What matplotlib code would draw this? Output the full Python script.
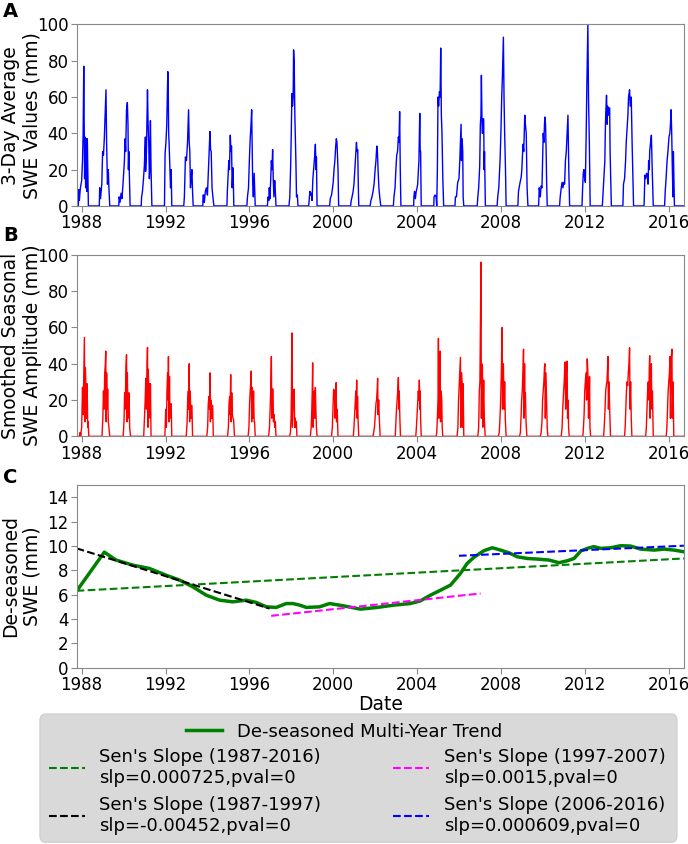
import matplotlib
matplotlib.use("Agg")
import matplotlib.pyplot as plt
from matplotlib.patches import FancyBboxPatch
import numpy as np

# record limits (decimal years)
record_start = 1987.78
record_end = 2016.73
season_years = list(range(1988, 2017))
year_ticks = list(range(1988, 2017, 4))

# 3-day average SWE, per water year: (offset from Jan 1 in years, mm)
swe3_pts = [
    [(-0.16,0),(-0.14,9),(-0.11,3),(-0.06,10),(0.00,14),(0.04,25),(0.07,40),(0.10,77),(0.12,46),(0.14,15),(0.16,38),(0.19,10),(0.22,37),(0.25,8),(0.27,37),(0.32,0)],
    [(-0.16,0),(-0.14,10),(-0.10,4),(-0.04,12),(0.00,30),(0.04,28),(0.08,37),(0.12,50),(0.16,64),(0.19,35),(0.23,12),(0.27,20),(0.30,10),(0.34,0)],
    [(-0.23,0),(-0.21,5),(-0.17,2),(-0.12,7),(-0.08,4),(-0.04,10),(0.00,18),(0.04,25),(0.07,37),(0.10,30),(0.14,53),(0.18,57),(0.21,45),(0.23,20),(0.25,30),(0.31,0)],
    [(-0.16,0),(-0.14,5),(-0.10,8),(-0.05,15),(-0.01,22),(0.04,38),(0.05,19),(0.09,30),(0.14,64),(0.17,45),(0.20,35),(0.23,15),(0.25,20),(0.28,47),(0.31,20),(0.35,0)],
    [(-0.05,0),(-0.02,29),(0.02,35),(0.06,45),(0.11,74),(0.13,65),(0.15,40),(0.17,35),(0.20,25),(0.24,10),(0.27,20),(0.30,0)],
    [(-0.13,0),(-0.10,5),(-0.05,27),(0.00,25),(0.05,35),(0.10,53),(0.13,35),(0.16,30),(0.19,10),(0.22,15),(0.26,20),(0.29,8),(0.32,0)],
    [(-0.22,0),(-0.21,6),(-0.17,6),(-0.15,2),(-0.10,8),(-0.05,10),(0.00,6),(0.05,20),(0.09,30),(0.12,41),(0.15,31),(0.18,30),(0.22,10),(0.26,5),(0.31,0)],
    [(-0.07,0),(-0.05,8),(-0.02,15),(0.02,25),(0.05,20),(0.09,39),(0.12,30),(0.15,33),(0.18,10),(0.22,21),(0.26,0)],
    [(-0.12,0),(-0.09,5),(-0.04,10),(0.00,25),(0.04,37),(0.08,45),(0.11,53),(0.13,35),(0.16,12),(0.19,5),(0.23,18),(0.25,10),(0.28,0)],
    [(-0.14,0),(-0.11,5),(-0.07,3),(-0.05,10),(-0.02,4),(0.02,15),(0.05,25),(0.08,20),(0.11,31),(0.14,15),(0.17,5),(0.21,14),(0.24,8),(0.27,0)],
    [(-0.11,0),(-0.07,5),(-0.03,22),(0.00,40),(0.03,62),(0.06,55),(0.09,60),(0.11,86),(0.14,79),(0.17,50),(0.19,40),(0.22,25),(0.25,5),(0.29,6),(0.32,0)],
    [(-0.17,0),(-0.14,4),(-0.11,8),(-0.07,6),(-0.04,7),(-0.01,3),(0.03,15),(0.08,22),(0.12,28),(0.15,34),(0.18,20),(0.20,27),(0.23,0)],
    [(-0.17,0),(-0.14,4),(-0.08,6),(-0.03,10),(0.00,13),(0.04,20),(0.08,25),(0.12,33),(0.15,37),(0.18,35),(0.21,25),(0.23,20),(0.26,0)],
    [(-0.17,0),(-0.14,3),(-0.10,5),(-0.05,8),(-0.01,12),(0.03,20),(0.07,28),(0.11,35),(0.14,30),(0.17,31),(0.20,10),(0.22,0)],
    [(-0.24,0),(-0.20,3),(-0.15,5),(-0.10,8),(-0.05,12),(0.00,20),(0.04,25),(0.08,33),(0.11,30),(0.14,20),(0.18,10),(0.22,5),(0.27,0)],
    [(-0.13,0),(-0.10,5),(-0.05,10),(-0.01,20),(0.03,28),(0.07,30),(0.11,38),(0.14,35),(0.17,52),(0.20,20),(0.23,0)],
    [(-0.16,0),(-0.15,5),(-0.12,8),(-0.08,4),(-0.04,8),(0.00,10),(0.03,12),(0.06,18),(0.09,25),(0.13,51),(0.15,30),(0.17,30),(0.20,0)],
    [(-0.20,0),(-0.19,5),(-0.14,6),(-0.09,5),(-0.06,0),(-0.03,20),(0.00,60),(0.03,55),(0.07,63),(0.10,60),(0.13,87),(0.16,50),(0.19,40),(0.23,15),(0.27,0)],
    [(-0.19,0),(-0.17,5),(-0.12,5),(-0.06,13),(0.00,15),(0.04,25),(0.07,35),(0.10,45),(0.12,25),(0.15,37),(0.18,30),(0.20,5),(0.23,0)],
    [(-0.13,0),(-0.10,5),(-0.06,10),(-0.01,22),(0.02,45),(0.05,50),(0.07,72),(0.10,45),(0.12,40),(0.15,48),(0.18,48),(0.20,20),(0.22,30),(0.26,0)],
    [(-0.18,0),(-0.15,5),(-0.10,10),(-0.04,25),(0.00,40),(0.04,60),(0.07,70),(0.12,93),(0.15,60),(0.18,40),(0.22,20),(0.25,0)],
    [(-0.19,0),(-0.16,8),(-0.10,12),(-0.03,16),(0.00,20),(0.03,28),(0.06,34),(0.09,30),(0.14,50),(0.17,45),(0.21,40),(0.25,10),(0.29,0)],
    [(-0.20,0),(-0.17,10),(-0.12,5),(-0.08,11),(-0.04,10),(-0.01,25),(0.02,40),(0.05,35),(0.08,45),(0.10,49),(0.13,45),(0.16,30),(0.18,15),(0.21,0)],
    [(-0.20,0),(-0.17,5),(-0.12,10),(-0.08,13),(-0.04,10),(0.00,13),(0.04,12),(0.08,25),(0.12,30),(0.16,40),(0.20,50),(0.24,20),(0.28,0)],
    [(-0.13,0),(-0.10,10),(-0.07,18),(-0.04,20),(0.00,15),(0.03,13),(0.07,40),(0.10,65),(0.15,100),(0.18,60),(0.22,35),(0.26,0)],
    [(-0.16,0),(-0.12,8),(-0.08,15),(-0.04,25),(-0.02,40),(0.00,50),(0.04,61),(0.07,45),(0.09,55),(0.12,50),(0.15,54),(0.19,54),(0.21,30),(0.23,20),(0.27,0)],
    [(-0.18,0),(-0.15,12),(-0.10,15),(-0.05,25),(-0.02,35),(0.03,45),(0.06,50),(0.09,60),(0.14,64),(0.17,55),(0.22,60),(0.26,35),(0.29,20),(0.33,0)],
    [(-0.17,0),(-0.13,17),(-0.09,15),(-0.05,18),(-0.01,17),(0.02,12),(0.05,25),(0.08,20),(0.10,30),(0.14,35),(0.18,39),(0.22,20),(0.27,0)],
    [(-0.19,0),(-0.16,8),(-0.12,15),(-0.07,25),(-0.03,30),(0.02,38),(0.06,40),(0.09,45),(0.12,53),(0.15,40),(0.18,20),(0.21,5),(0.23,30),(0.28,0)],
]

# smoothed seasonal amplitude, per water year: (offset from Jan 1 in years, mm)
seasonal_pts = [
    [(-0.10,0),(-0.09,2),(-0.06,2),(-0.05,0),(0.00,5),(0.04,27),(0.07,12),(0.10,35),(0.13,54.5),(0.15,8),(0.18,38),(0.21,20),(0.23,10),(0.26,29),(0.29,5),(0.31,8),(0.34,0)],
    [(-0.03,0),(0.01,10),(0.04,25),(0.07,15),(0.10,35),(0.13,40),(0.15,47),(0.17,8),(0.19,35),(0.22,15),(0.24,26),(0.27,8),(0.30,5),(0.34,0)],
    [(-0.02,0),(0.02,8),(0.05,24),(0.08,15),(0.11,37),(0.14,45),(0.16,8),(0.18,35),(0.21,10),(0.23,15),(0.26,24),(0.29,5),(0.33,0)],
    [(-0.04,0),(-0.01,8),(0.03,20),(0.06,32),(0.09,15),(0.12,40),(0.14,49),(0.16,5),(0.18,37),(0.21,20),(0.24,29),(0.27,10),(0.28,29),(0.31,0)],
    [(-0.03,0),(0.01,15),(0.04,5),(0.07,25),(0.10,35),(0.12,20),(0.14,44),(0.16,8),(0.19,33),(0.21,10),(0.24,18),(0.27,18),(0.30,0)],
    [(-0.01,0),(0.03,8),(0.06,20),(0.09,25),(0.11,15),(0.13,40),(0.15,8),(0.18,25),(0.21,10),(0.23,17),(0.26,17),(0.29,0)],
    [(-0.03,0),(0.01,5),(0.04,18),(0.07,22),(0.10,15),(0.12,35),(0.14,8),(0.17,20),(0.20,10),(0.22,17),(0.25,17),(0.28,0)],
    [(-0.04,0),(0.00,5),(0.03,18),(0.06,22),(0.08,12),(0.11,34),(0.13,8),(0.16,24),(0.19,12),(0.22,10),(0.25,9),(0.29,0)],
    [(-0.06,0),(-0.02,5),(0.01,18),(0.04,25),(0.07,30),(0.09,36),(0.11,8),(0.14,27),(0.17,10),(0.20,25),(0.23,8),(0.25,8),(0.28,0)],
    [(-0.08,0),(-0.04,5),(-0.01,15),(0.02,25),(0.05,44),(0.07,10),(0.09,26),(0.13,26),(0.15,8),(0.18,12),(0.21,5),(0.24,8),(0.27,0)],
    [(-0.08,0),(-0.04,2),(-0.01,10),(0.01,25),(0.03,57),(0.05,5),(0.08,15),(0.11,25),(0.14,26),(0.16,5),(0.19,10),(0.22,5),(0.24,8),(0.27,0)],
    [(-0.09,0),(-0.05,5),(-0.02,15),(0.00,25),(0.02,40.5),(0.04,5),(0.07,20),(0.10,25),(0.12,10),(0.15,27),(0.18,12),(0.20,5),(0.23,0)],
    [(-0.08,0),(-0.04,5),(-0.01,15),(0.02,26),(0.04,20),(0.06,25),(0.09,10),(0.12,25),(0.14,29.6),(0.16,8),(0.19,15),(0.23,0)],
    [(-0.04,0),(-0.01,5),(0.02,12),(0.05,20),(0.08,25),(0.10,15),(0.12,31),(0.14,10),(0.16,22),(0.19,8),(0.22,0)],
    [(-0.10,0),(-0.07,2),(-0.03,5),(0.01,12),(0.04,18),(0.07,20),(0.10,26),(0.12,32),(0.14,12),(0.17,20),(0.20,10),(0.24,0)],
    [(-0.04,0),(-0.01,8),(0.02,15),(0.05,20),(0.08,25),(0.11,32.4),(0.13,15),(0.15,25),(0.18,10),(0.21,0)],
    [(-0.06,0),(-0.03,5),(0.00,12),(0.03,18),(0.06,25),(0.09,20),(0.11,31),(0.13,15),(0.15,25),(0.17,10),(0.20,0)],
    [(-0.09,0),(-0.06,2),(-0.03,10),(0.00,20),(0.02,54),(0.04,10),(0.07,25),(0.10,47),(0.12,8),(0.15,25),(0.18,20),(0.20,5),(0.23,0)],
    [(-0.09,0),(-0.05,5),(-0.02,20),(0.01,28),(0.04,35),(0.07,43.5),(0.09,5),(0.12,35),(0.15,29),(0.17,5),(0.20,29),(0.23,0)],
    [(-0.10,0),(-0.06,5),(-0.03,25),(0.00,30),(0.03,70),(0.05,96),(0.07,10),(0.09,40),(0.12,38),(0.14,5),(0.16,20),(0.18,31),(0.21,10),(0.25,0)],
    [(-0.12,0),(-0.08,2),(-0.05,8),(-0.01,20),(0.02,35),(0.06,60),(0.08,15),(0.10,40),(0.12,40),(0.15,15),(0.18,30),(0.21,10),(0.25,0)],
    [(-0.11,0),(-0.07,2),(-0.04,10),(-0.01,20),(0.02,25),(0.05,35),(0.08,48),(0.10,10),(0.13,40),(0.15,20),(0.17,24),(0.20,8),(0.24,0)],
    [(-0.12,0),(-0.08,2),(-0.04,8),(-0.01,20),(0.02,25),(0.05,30),(0.08,38),(0.10,40),(0.12,10),(0.15,35),(0.18,20),(0.21,5),(0.24,0)],
    [(-0.12,0),(-0.08,5),(-0.05,15),(-0.02,22),(0.02,30),(0.06,41),(0.09,15),(0.12,35),(0.16,41.4),(0.18,10),(0.21,20),(0.23,5),(0.26,0)],
    [(-0.09,0),(-0.06,5),(-0.03,12),(0.00,25),(0.03,30),(0.06,35),(0.09,20),(0.12,42.7),(0.15,35),(0.18,10),(0.21,20),(0.23,33),(0.25,5),(0.28,0)],
    [(-0.10,0),(-0.07,5),(-0.03,15),(0.00,25),(0.03,28),(0.06,30),(0.09,38),(0.11,44),(0.13,15),(0.16,30),(0.19,15),(0.23,0)],
    [(-0.10,0),(-0.07,5),(-0.04,15),(-0.01,25),(0.02,30),(0.05,28),(0.08,35),(0.11,40),(0.14,48.8),(0.16,15),(0.19,30),(0.22,10),(0.25,0)],
    [(-0.09,0),(-0.06,5),(-0.03,15),(0.00,25),(0.03,30),(0.06,20),(0.08,38),(0.10,44.4),(0.12,10),(0.15,35),(0.18,40),(0.20,15),(0.23,25),(0.27,0)],
    [(-0.11,0),(-0.08,5),(-0.05,15),(-0.02,25),(0.01,30),(0.04,35),(0.07,44),(0.09,10),(0.12,40),(0.14,45),(0.16,48),(0.18,10),(0.21,30),(0.25,0)],
]

# de-seasoned multi-year trend (decimal year, mm)
trend_t = [1987.76, 1989.08, 1989.64, 1990.44, 1991.23, 1992.03, 1992.67, 1993.30, 1993.94,
           1994.58, 1995.21, 1995.85, 1996.33, 1996.81, 1997.28, 1997.76, 1998.08, 1998.40,
           1998.72, 1999.35, 1999.83, 2000.50, 2001.30, 2002.09, 2002.89, 2003.68, 2004.16,
           2004.64, 2005.12, 2005.60, 2006.07, 2006.39, 2006.71, 2007.19, 2007.59, 2007.98,
           2008.38, 2008.78, 2009.26, 2009.74, 2010.29, 2010.77, 2011.17, 2011.49, 2011.81,
           2012.12, 2012.44, 2012.76, 2013.24, 2013.72, 2014.19, 2014.67, 2015.31, 2015.79,
           2016.26, 2016.73]
trend_v = [6.3, 9.5, 8.85, 8.43, 8.16, 7.6, 7.2, 6.65, 5.96,
           5.55, 5.41, 5.55, 5.36, 5.0, 4.95, 5.27, 5.27, 5.14,
           4.95, 5.0, 5.27, 5.08, 4.81, 4.95, 5.14, 5.27, 5.49,
           5.96, 6.37, 6.79, 7.75, 8.57, 9.07, 9.62, 9.86, 9.67,
           9.45, 9.12, 8.98, 8.93, 8.85, 8.63, 8.79, 8.98, 9.59,
           9.81, 9.95, 9.81, 9.86, 10.03, 10.0, 9.75, 9.67, 9.75,
           9.67, 9.53]

# Sen's slope lines: label, start/end (decimal year), start/end value
sens_labels = ["Sen's Slope (1987-2016)\nslp=0.000725,pval=0",
               "Sen's Slope (1987-1997)\nslp=-0.00452,pval=0",
               "Sen's Slope (1997-2007)\nslp=0.0015,pval=0",
               "Sen's Slope (2006-2016)\nslp=0.000609,pval=0"]
sens_t0 = [1987.76, 1987.76, 1997.04, 2006.00]
sens_t1 = [2016.73, 1996.96, 2007.03, 2016.73]
sens_v0 = [6.32, 9.81, 4.26, 9.20]
sens_v1 = [8.98, 4.86, 6.10, 10.03]
sens_colors = ["green", "black", "magenta", "blue"]


def build_series(pts):
    t = [record_start]
    v = [0]
    for yr, season in zip(season_years, pts):
        for dt, val in season:
            t.append(yr + dt)
            v.append(val)
    t.append(record_end)
    v.append(0)
    return np.array(t), np.array(v)


swe3_t, swe3_v = build_series(swe3_pts)
seas_t, seas_v = build_series(seasonal_pts)

fig = plt.figure(figsize=(6.88, 8.44), dpi=100)
axA = fig.add_axes([0.112, 0.756, 0.882, 0.215])
axB = fig.add_axes([0.112, 0.483, 0.882, 0.215])
axC = fig.add_axes([0.112, 0.209, 0.882, 0.216])


def style(ax):
    for s in ax.spines.values():
        s.set_color("#888888")
    ax.tick_params(labelsize=12, color="#888888", length=4, pad=2)
    ax.set_xlim(record_start, record_end)
    ax.set_xticks(year_ticks)
    ax.set_xticklabels([str(y) for y in year_ticks])
    ax.yaxis.set_label_coords(-0.058, 0.5)


axA.plot(swe3_t, swe3_v, color="blue", linewidth=1.0)
axA.set_ylim(0, 100)
axA.set_yticks([0, 20, 40, 60, 80, 100])
axA.set_ylabel("3-Day Average\nSWE Values (mm)", fontsize=13.5)
style(axA)

axB.plot(seas_t, seas_v, color="red", linewidth=1.0)
axB.set_ylim(0, 100)
axB.set_yticks([0, 20, 40, 60, 80, 100])
axB.set_ylabel("Smoothed Seasonal\nSWE Amplitude (mm)", fontsize=13.5)
style(axB)

trend_line, = axC.plot(trend_t, trend_v, color="green", linewidth=2.5,
                       label="De-seasoned Multi-Year Trend")
sens_handles = []
for lab, t0, t1, v0, v1, c in zip(sens_labels, sens_t0, sens_t1, sens_v0, sens_v1, sens_colors):
    h, = axC.plot([t0, t1], [v0, v1], "--", color=c, linewidth=1.5, label=lab)
    sens_handles.append(h)
axC.set_ylim(0, 15)
axC.set_yticks(range(0, 15, 2))
axC.set_ylabel("De-seasoned\nSWE (mm)", fontsize=13.5)
axC.set_xlabel("Date", fontsize=13.5, labelpad=1)
style(axC)

fig.text(0.004, 0.998, "A", fontsize=14, fontweight="bold", va="top")
fig.text(0.004, 0.732, "B", fontsize=14, fontweight="bold", va="top")
fig.text(0.004, 0.445, "C", fontsize=14, fontweight="bold", va="top")

# grey legend panel
box = FancyBboxPatch((0.058, 0.002), 0.926, 0.152, transform=fig.transFigure,
                     boxstyle="round,pad=0,rounding_size=0.008",
                     facecolor="#d9d9d9", edgecolor="#cccccc", linewidth=0.8)
fig.add_artist(box)

fig.legend(handles=[trend_line], loc="center", bbox_to_anchor=(0.5, 0.133),
           frameon=False, fontsize=13)
fig.legend(handles=sens_handles, ncol=2, loc="center", bbox_to_anchor=(0.519, 0.062),
           frameon=False, fontsize=13, columnspacing=4.0, labelspacing=0.5)

fig.savefig("out.png", dpi=100)
